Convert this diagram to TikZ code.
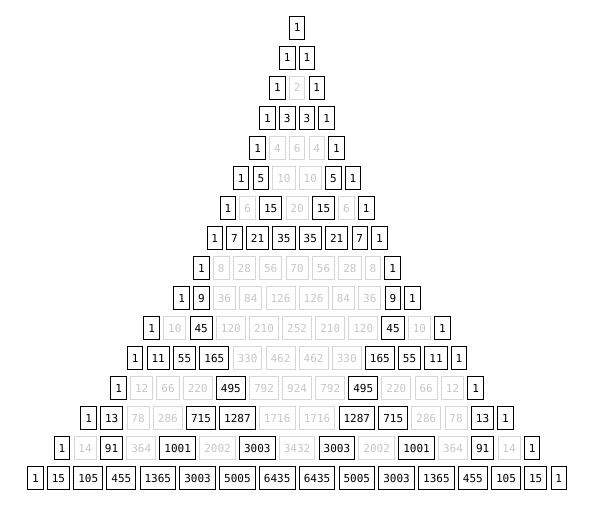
\documentclass[tikz,border=0pt]{standalone}
\usepackage{fontspec}
\setmonofont{DejaVu Sans Mono}
\usepackage{tikz}

\tikzset{
    entry/.style={rectangle, line width=1pt, inner xsep=0pt, anchor=west,
        minimum height=23pt, text height=8pt, text depth=0pt,
        font=\ttfamily\fontsize{11}{13}\selectfont},
    oddentry/.style={entry, draw=black, text=black},
    evenentry/.style={entry, draw=black!16, text=black!22},
}
\newcommand{\digitsof}[1]{\ifnum#1>999 4\else\ifnum#1>99 3\else\ifnum#1>9 2\else 1\fi\fi\fi}

\begin{document}
\begin{tikzpicture}[x=1pt,y=1pt]
    \useasboundingbox (0,0) rectangle (600,-511);

    \foreach \r in {0,...,15} {
        % width of the row, to centre it
        \xdef\entryval{1}
        \xdef\rowwidth{0}
        \foreach \k in {0,...,\r} {
            \ifnum\k>0 \xdef\entryval{\the\numexpr\entryval*(\r-\k+1)/\k\relax}\fi
            \pgfmathsetmacro\tmp{\rowwidth+8.8+6.7*\digitsof{\entryval}}
            \xdef\rowwidth{\tmp}
        }
        \pgfmathsetmacro\tmp{296.6-(\rowwidth+4.2*\r)/2}
        \xdef\xpos{\tmp}
        % the boxes
        \xdef\entryval{1}
        \foreach \k in {0,...,\r} {
            \ifnum\k>0 \xdef\entryval{\the\numexpr\entryval*(\r-\k+1)/\k\relax}\fi
            \pgfmathsetmacro\w{8.8+6.7*\digitsof{\entryval}}
            \ifodd\entryval
                \node[oddentry, minimum width=\w pt] (e\r-\k) at (\xpos,-28-30*\r) {\entryval};
            \else
                \node[evenentry, minimum width=\w pt] (e\r-\k) at (\xpos,-28-30*\r) {\entryval};
            \fi
            \pgfmathsetmacro\tmp{\xpos+\w+4.2}
            \xdef\xpos{\tmp}
        }
    }

\end{tikzpicture}
\end{document}
